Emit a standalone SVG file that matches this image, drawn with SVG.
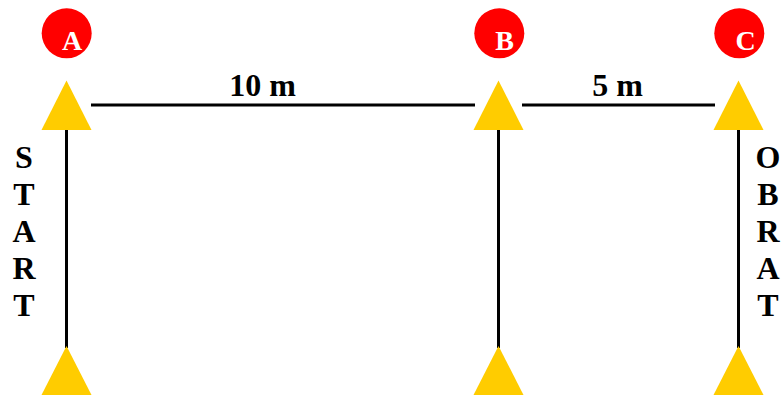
<svg xmlns="http://www.w3.org/2000/svg" width="784" height="396" viewBox="0 0 784 396">
<style>
.ln{stroke:#000;stroke-width:3;fill:none}
.tri{fill:#FFCC00}
.circ{fill:#FF0000}
.cl{font-family:'Liberation Serif','Times New Roman',serif;font-weight:700;font-size:28px;fill:#fff;text-anchor:middle}
.lb{font-family:'Liberation Serif','Times New Roman',serif;font-weight:700;font-size:32px;fill:#000;text-anchor:middle}
</style>
<rect width="784" height="396" fill="#fff"/>
<g id="connectors">
<line class="ln" x1="91" y1="105" x2="475" y2="105"/>
<line class="ln" x1="522" y1="105" x2="715" y2="105"/>
<line class="ln" x1="66.5" y1="128" x2="66.5" y2="348"/>
<line class="ln" x1="498.5" y1="128" x2="498.5" y2="348"/>
<line class="ln" x1="738.5" y1="128" x2="738.5" y2="348"/>
</g>
<g id="A">
<circle class="circ" cx="66.7" cy="33.3" r="25"/>
<text class="cl" x="72" y="49.5">A</text>
<polygon class="tri" points="66.5,80.5 41.5,130 91.5,130"/>
<polygon class="tri" points="66.5,346 41.5,395 91.5,395"/>
</g>
<g id="B">
<circle class="circ" cx="499.3" cy="33.3" r="25"/>
<text class="cl" x="504.7" y="49.5">B</text>
<polygon class="tri" points="498.5,80.5 473.5,130 523.5,130"/>
<polygon class="tri" points="498.5,346 473.5,395 523.5,395"/>
</g>
<g id="C">
<circle class="circ" cx="739.3" cy="33.3" r="25"/>
<text class="cl" x="745.5" y="49.5">C</text>
<polygon class="tri" points="738.5,80.5 713.5,130 763.5,130"/>
<polygon class="tri" points="738.5,346 713.5,395 763.5,395"/>
</g>
<g id="labels">
<text class="lb" x="262.5" y="96">10 m</text>
<text class="lb" x="617.5" y="96">5 m</text>
<text class="lb" x="24" y="168">S</text>
<text class="lb" x="24" y="204.5">T</text>
<text class="lb" x="24" y="241.5">A</text>
<text class="lb" x="24" y="279">R</text>
<text class="lb" x="24" y="316">T</text>
<text class="lb" x="768" y="168">O</text>
<text class="lb" x="768" y="204.5">B</text>
<text class="lb" x="768" y="241.5">R</text>
<text class="lb" x="768" y="279">A</text>
<text class="lb" x="768" y="316">T</text>
</g>
</svg>
